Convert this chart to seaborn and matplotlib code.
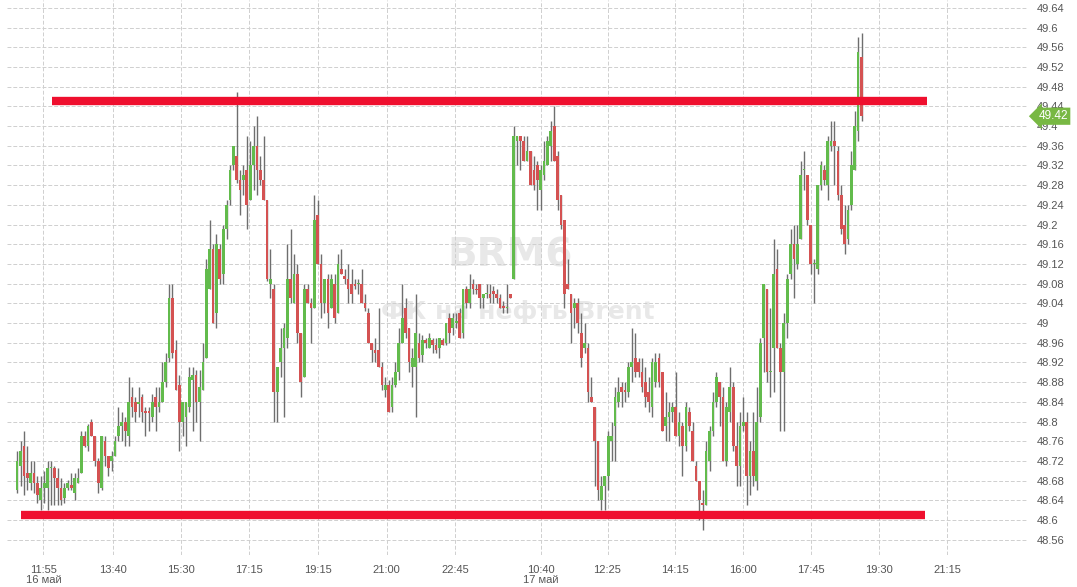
import numpy as np
import pandas as pd
import matplotlib
matplotlib.use("Agg")
import matplotlib.pyplot as plt
import seaborn as sns

# 5-minute candles BRM6, 16-17 May
open_ = [
    48.66, 48.71, 48.75, 48.695, 48.675, 48.695, 48.675, 48.64, 48.665, 48.665,
    48.705, 48.705, 48.685, 48.665, 48.645, 48.665, 48.672, 48.655, 48.675, 48.695,
    48.77, 48.75, 48.80, 48.77, 48.72, 48.665, 48.76, 48.73, 48.72, 48.73,
    48.77, 48.79, 48.80, 48.77, 48.85, 48.84, 48.835, 48.85, 48.822, 48.822,
    48.81, 48.85, 48.83, 48.84, 48.88, 48.93, 49.05, 48.945, 48.875, 48.80,
    48.81, 48.83, 48.885, 48.895, 48.84, 48.865, 48.93, 49.07, 49.15, 49.02,
    49.15, 49.10, 49.19, 49.25,
    49.32, 49.34, 49.29, 49.29, 49.31, 49.25, 49.32, 49.36, 49.31, 49.29,
    49.25, 49.08, 49.07, 48.86, 48.92, 48.95, 48.97, 49.09, 49.04, 49.10,
    48.98, 48.89, 49.07, 49.04, 49.03, 49.22, 49.12, 49.04, 49.09, 49.03,
    49.08, 49.02, 49.11, 49.095, 49.09, 49.08, 49.08, 49.08, 49.08, 49.04,
    49.02, 48.96, 48.945, 48.945, 48.91, 48.865, 48.875, 48.83, 48.875, 48.90,
    48.96, 49.03, 48.99, 48.91, 48.91, 48.96, 48.935, 48.965, 48.95, 48.965,
    48.955, 48.95, 48.965,
    48.96, 49.01, 48.99, 49.00, 49.02, 48.98, 49.07, 49.04, 49.08, 49.07,
    49.08, 49.05, 49.06, 49.06, 49.065, 49.06, 49.05, 49.035, 49.03, 49.06,
    49.09, 49.37, 49.38, 49.37, 49.33, 49.35, 49.31, 49.32, 49.27, 49.30,
    49.32, 49.36, 49.40, 49.34, 49.26, 49.21, 49.08, 49.06, 49.03, 49.04,
    48.98, 48.95, 48.95, 48.85, 48.83, 48.76, 48.64, 48.67, 48.69, 48.76,
    48.79, 48.84, 48.87, 48.865, 48.86, 48.91, 48.93, 48.92, 48.90, 48.88,
    48.86, 48.83, 48.88, 48.93,
    48.90, 48.79, 48.81, 48.82, 48.83, 48.77, 48.79, 48.75, 48.82, 48.78,
    48.71, 48.68, 48.635, 48.63, 48.72, 48.78, 48.84, 48.88, 48.85, 48.72,
    48.82, 48.87, 48.75, 48.71, 48.79, 48.80, 48.69, 48.74, 48.68, 48.81,
    48.97, 49.07, 48.90, 48.95, 49.11, 48.95, 48.90, 49.00, 49.10, 49.16,
    49.12, 49.17, 49.31, 49.30, 49.20, 49.12, 49.11, 49.28, 49.31, 49.28,
    49.36, 49.37, 49.35, 49.26, 49.20, 49.17, 49.24, 49.31, 49.39, 49.54,
]
high = [
    48.74, 48.76, 48.78, 48.75, 48.72, 48.72, 48.69, 48.69, 48.70, 48.72,
    48.72, 48.71, 48.705, 48.685, 48.675, 48.682, 48.695, 48.695, 48.705, 48.78,
    48.78, 48.795, 48.805, 48.77, 48.725, 48.77, 48.77, 48.73, 48.74, 48.77,
    48.83, 48.82, 48.81, 48.89, 48.87, 48.85, 48.87, 48.855, 48.83, 48.83,
    48.855, 48.87, 48.87, 48.92, 48.94, 49.08, 49.08, 48.965, 48.895, 48.84,
    48.84, 48.91, 48.91, 48.905, 48.905, 48.96, 49.13, 49.21, 49.16, 49.18,
    49.16, 49.20, 49.25, 49.32,
    49.36, 49.47, 49.31, 49.32, 49.38, 49.37, 49.40, 49.42, 49.34, 49.38,
    49.25, 49.15, 49.08, 48.91, 48.99, 49.00, 49.16, 49.19, 49.14, 49.12,
    48.98, 49.08, 49.08, 49.05, 49.26, 49.25, 49.14, 49.09, 49.10, 49.10,
    49.10, 49.14, 49.15, 49.11, 49.12, 49.11, 49.09, 49.09, 49.11, 49.06,
    49.03, 48.96, 48.97, 49.03, 48.92, 48.89, 48.885, 48.89, 48.92, 48.99,
    49.08, 49.05, 48.99, 48.95, 49.06, 48.98, 48.975, 48.97, 48.98, 48.97,
    48.97, 48.97, 48.97,
    49.00, 49.02, 49.02, 49.02, 49.03, 49.07, 49.075, 49.10, 49.09, 49.08,
    49.08, 49.06, 49.08, 49.08, 49.075, 49.07, 49.06, 49.045, 49.08, 49.06,
    49.40, 49.38, 49.38, 49.38, 49.38, 49.35, 49.34, 49.33, 49.32, 49.37,
    49.38, 49.41, 49.44, 49.35, 49.26, 49.21, 49.13, 49.06, 49.05, 49.05,
    49.02, 49.00, 48.96, 48.89, 48.83, 48.76, 48.69, 48.69, 48.78, 48.80,
    48.87, 48.89, 48.88, 48.88, 48.92, 48.99, 48.98, 48.93, 48.93, 48.91,
    48.89, 48.93, 48.94, 48.94,
    48.90, 48.86, 48.84, 48.84, 48.90, 48.82, 48.80, 48.84, 48.83, 48.80,
    48.72, 48.68, 48.66, 48.76, 48.79, 48.86, 48.90, 48.88, 48.87, 48.84,
    48.91, 48.88, 48.80, 48.82, 48.85, 48.82, 48.76, 48.82, 48.87, 48.97,
    49.08, 49.07, 49.03, 49.17, 49.15, 48.96, 49.02, 49.10, 49.19, 49.20,
    49.20, 49.33, 49.35, 49.30, 49.20, 49.13, 49.28, 49.33, 49.32, 49.38,
    49.41, 49.41, 49.36, 49.28, 49.24, 49.24, 49.35, 49.43, 49.58, 49.59,
]
low = [
    48.655, 48.67, 48.65, 48.66, 48.66, 48.655, 48.635, 48.62, 48.635, 48.62,
    48.63, 48.63, 48.63, 48.63, 48.635, 48.66, 48.66, 48.64, 48.675, 48.695,
    48.748, 48.74, 48.77, 48.71, 48.655, 48.66, 48.71, 48.69, 48.70, 48.73,
    48.76, 48.76, 48.75, 48.75, 48.81, 48.80, 48.81, 48.80, 48.77, 48.78,
    48.80, 48.78, 48.82, 48.84, 48.87, 48.92, 48.93, 48.865, 48.74, 48.77,
    48.75, 48.82, 48.78, 48.80, 48.76, 48.865, 48.93, 49.07, 49.00, 48.99,
    49.08, 49.08, 49.17, 49.24,
    49.31, 49.285, 49.22, 49.26, 49.19, 49.25, 49.27, 49.26, 49.28, 49.25,
    49.085, 49.05, 48.80, 48.80, 48.89, 48.81, 48.95, 49.04, 49.04, 48.96,
    48.85, 48.89, 49.04, 48.96, 49.03, 49.12, 49.01, 49.02, 48.99, 49.03,
    49.00, 49.02, 49.10, 49.08, 49.04, 49.04, 49.07, 49.06, 49.04, 49.025,
    48.96, 48.92, 48.92, 48.91, 48.865, 48.85, 48.82, 48.82, 48.87, 48.885,
    48.96, 48.97, 48.90, 48.87, 48.81, 48.92, 48.92, 48.95, 48.95, 48.94,
    48.94, 48.93, 48.955,
    48.955, 48.96, 48.975, 48.99, 48.97, 48.97, 49.03, 49.03, 49.06, 49.06,
    49.03, 49.03, 49.05, 49.04, 49.04, 49.04, 49.03, 49.02, 49.02, 49.05,
    49.09, 49.32, 49.31, 49.33, 49.33, 49.28, 49.27, 49.23, 49.23, 49.29,
    49.32, 49.33, 49.33, 49.23, 49.19, 49.03, 49.07, 48.96, 48.99, 48.98,
    48.91, 48.94, 48.84, 48.84, 48.67, 48.64, 48.62, 48.62, 48.66, 48.72,
    48.72, 48.83, 48.83, 48.84, 48.85, 48.88, 48.89, 48.89, 48.86, 48.83,
    48.82, 48.81, 48.87, 48.87,
    48.78, 48.76, 48.76, 48.80, 48.77, 48.75, 48.69, 48.74, 48.78, 48.72,
    48.68, 48.60, 48.58, 48.63, 48.70, 48.77, 48.83, 48.79, 48.72, 48.71,
    48.80, 48.74, 48.67, 48.67, 48.78, 48.63, 48.65, 48.67, 48.66, 48.80,
    48.90, 48.88, 48.85, 48.86, 48.95, 48.78, 48.78, 48.97, 49.09, 49.05,
    49.11, 49.17, 49.27, 49.20, 49.10, 49.04, 49.10, 49.27, 49.28, 49.25,
    49.35, 49.28, 49.25, 49.18, 49.14, 49.16, 49.23, 49.31, 49.37, 49.41,
]
close = [
    48.72, 48.74, 48.69, 48.685, 48.695, 48.675, 48.65, 48.665, 48.675, 48.705,
    48.708, 48.685, 48.665, 48.64, 48.665, 48.675, 48.665, 48.685, 48.685, 48.77,
    48.75, 48.79, 48.77, 48.72, 48.675, 48.77, 48.73, 48.705, 48.73, 48.76,
    48.79, 48.80, 48.78, 48.84, 48.83, 48.82, 48.84, 48.82, 48.818, 48.818,
    48.84, 48.83, 48.84, 48.88, 48.92, 49.05, 48.94, 48.865, 48.80, 48.84,
    48.84, 48.89, 48.895, 48.84, 48.87, 48.92, 49.11, 49.15, 49.00, 49.16,
    49.09, 49.19, 49.24, 49.31,
    49.36, 49.29, 49.27, 49.30, 49.24, 49.32, 49.36, 49.31, 49.29, 49.25,
    49.09, 49.09, 48.86, 48.91, 48.95, 48.99, 49.09, 49.05, 49.10, 48.98,
    48.88, 49.07, 49.04, 49.03, 49.21, 49.12, 49.04, 49.09, 49.02, 49.09,
    49.01, 49.12, 49.10, 49.09, 49.07, 49.06, 49.075, 49.08, 49.04, 49.03,
    48.96, 48.945, 48.94, 48.91, 48.875, 48.875, 48.82, 48.875, 48.90, 48.96,
    49.01, 48.98, 48.92, 48.93, 48.98, 48.93, 48.965, 48.96, 48.97, 48.955,
    48.945, 48.97, 48.955,
    49.00, 48.98, 49.01, 49.005, 48.97, 49.07, 49.04, 49.07, 49.07, 49.068,
    49.05, 49.06, 49.06, 49.05, 49.06, 49.05, 49.03, 49.03, 49.03, 49.05,
    49.38, 49.38, 49.37, 49.33, 49.35, 49.28, 49.28, 49.29, 49.31, 49.33,
    49.37, 49.39, 49.33, 49.25, 49.20, 49.06, 49.07, 49.02, 49.04, 49.00,
    48.93, 48.96, 48.86, 48.84, 48.76, 48.66, 48.67, 48.69, 48.77, 48.77,
    48.85, 48.86, 48.86, 48.86, 48.91, 48.92, 48.90, 48.90, 48.87, 48.85,
    48.84, 48.92, 48.92, 48.88,
    48.78, 48.81, 48.82, 48.83, 48.77, 48.80, 48.75, 48.83, 48.79, 48.72,
    48.68, 48.64, 48.63, 48.74, 48.78, 48.84, 48.89, 48.85, 48.72, 48.83,
    48.87, 48.75, 48.71, 48.79, 48.80, 48.69, 48.74, 48.69, 48.80, 48.96,
    49.08, 48.90, 48.90, 49.10, 48.95, 48.90, 49.00, 49.09, 49.16, 49.13,
    49.16, 49.30, 49.31, 49.21, 49.12, 49.12, 49.28, 49.32, 49.29, 49.37,
    49.37, 49.36, 49.26, 49.19, 49.16, 49.23, 49.32, 49.40, 49.55, 49.42,
]

# time axis: candle index of each labelled tick
tick_pos = [7.8, 28.5, 48.5, 68.7, 89, 109.4, 129.6, 155, 174.8, 194.9, 214.8, 235.1, 255.3, 275.3]
tick_labels = ["11:55\n16 май", "13:40", "15:30", "17:15", "19:15", "21:00", "22:45",
               "10:40\n17 май", "12:25", "14:15", "16:00", "17:45", "19:30", "21:15"]

# hand-drawn support / resistance levels: price, start index, end index
levels = [49.45, 48.61]
level_start = [10.4, 1.2]
level_end = [269.5, 268.9]

price_ticks = [round(48.56 + 0.04 * k, 2) for k in range(28)]

sns.set_theme(style="white")
plt.rcParams["font.family"] = ["Liberation Sans", "DejaVu Sans"]

df = pd.DataFrame({"open": open_, "high": high, "low": low, "close": close})
df["x"] = np.arange(len(df))
up = df["close"] >= df["open"]

GREEN = "#62bb4c"
RED = "#d45252"

fig = plt.figure(figsize=(10.77, 5.87), dpi=100)
ax = fig.add_axes([7 / 1077, 1 - 555 / 587, 1020 / 1077, 555 / 587])

# watermark
ax.text(0.493, 0.54, "BRM6", transform=ax.transAxes, ha="center", va="center",
        fontsize=28, fontweight="bold", color="#e8e8e8", family="DejaVu Sans", zorder=0)
ax.text(0.501, 0.438, "ФК на нефть Brent", transform=ax.transAxes, ha="center", va="center",
        fontsize=18, fontweight="bold", color="#e8e8e8", family="DejaVu Sans", zorder=0)

# candles
ax.vlines(df["x"], df["low"], df["high"], color="#6e6e6e", lw=1.0, zorder=2)
body = (df["close"] - df["open"]).abs().clip(lower=0.002)
ax.bar(df["x"], body, bottom=df[["open", "close"]].min(axis=1), width=0.8,
       color=np.where(up, GREEN, RED), linewidth=0, zorder=3)

# levels
for lv, s, e in zip(levels, level_start, level_end):
    ax.hlines(lv, s, e, color="#ef0f2e", lw=6, zorder=4)

ax.set_xlim(-3, 299)
ax.set_ylim(48.529, 49.656)

ax.set_xticks(tick_pos)
ax.set_xticklabels(tick_labels, linespacing=1.05)
ax.set_yticks(price_ticks)
ax.set_yticklabels([f"{v:.2f}".rstrip("0").rstrip(".") for v in price_ticks])
ax.yaxis.tick_right()
ax.tick_params(axis="both", length=0, labelsize=8, labelcolor="#555555")
ax.tick_params(axis="x", pad=7)
ax.tick_params(axis="y", pad=7)

ax.grid(True, color="#cfcfcf", lw=0.7, linestyle=(0, (4, 2)))
ax.set_axisbelow(True)
for sp in ax.spines.values():
    sp.set_visible(False)

# last price marker
ax.text(1.011, close[-1], f"{close[-1]:.2f}", transform=ax.get_yaxis_transform(),
        ha="left", va="center", color="white", fontsize=8.5, zorder=6, clip_on=False,
        bbox=dict(boxstyle="larrow,pad=0.22", fc="#78b843", ec="none"))

fig.savefig("out.png", dpi=100)
